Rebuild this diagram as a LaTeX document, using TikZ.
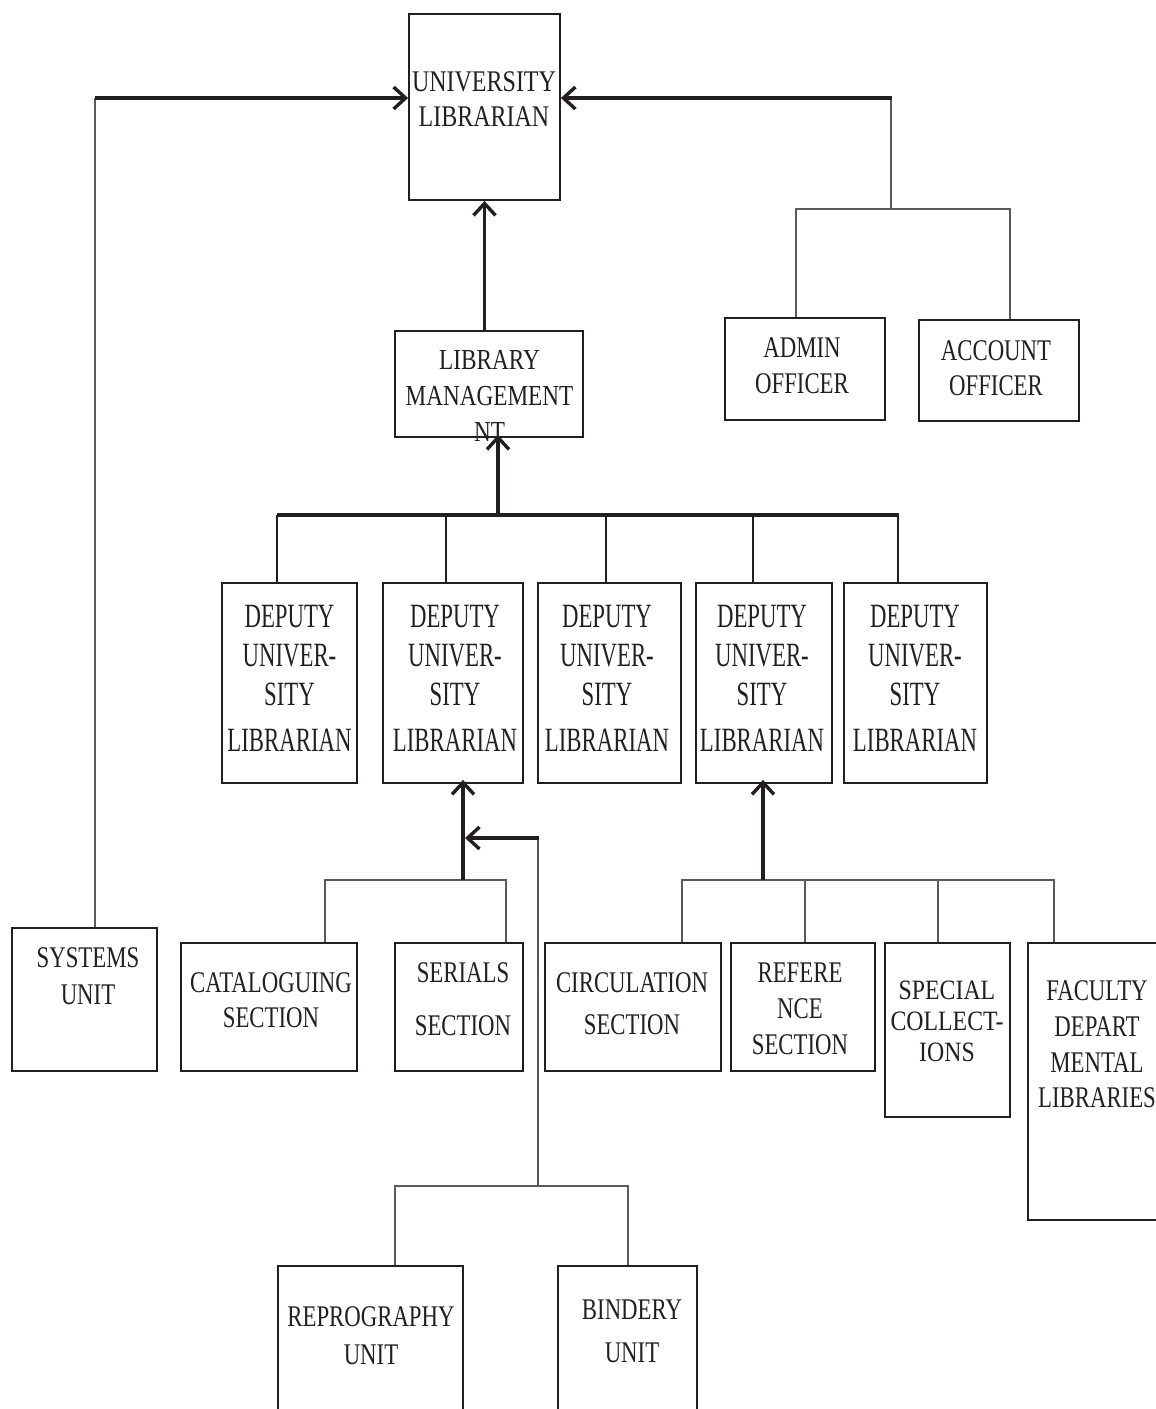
\documentclass[tikz,border=0pt]{standalone}
\usepackage{fontspec}
\setmainfont{Liberation Serif}
\newfontfamily\fA[FakeStretch=0.80]{Liberation Serif}
\newfontfamily\fB[FakeStretch=0.76]{Liberation Serif}
\newfontfamily\fC[FakeStretch=0.67]{Liberation Serif}
\newfontfamily\fD[FakeStretch=0.85]{Liberation Serif}
\usetikzlibrary{arrows.meta}
\definecolor{ink}{RGB}{35,31,32}
\definecolor{lgray}{RGB}{90,90,90}
\tikzset{
  box/.style={draw=ink, line width=1.8pt, inner sep=0pt},
  lbl/.style={align=center, text=ink, inner sep=0pt},
  heavy/.style={draw=ink, line width=3.6pt},
  heavyarrow/.style={heavy, -{Straight Barb[length=12pt,width=22pt,line width=3.4pt]}},
  link/.style={draw=ink, line width=1.8pt},
  thinlink/.style={draw=lgray, line width=1.5pt},
}
\begin{document}
\begin{tikzpicture}[x=1pt,y=-1pt]
\useasboundingbox (0,0) rectangle (1156,1409);
\fill[white] (0,0) rectangle (1156,1409);
\clip (0,0) rectangle (1156,1409);

% ---- boxes ----
\node[box, minimum width=151pt, minimum height=186pt] (ul) at (484.5,107) {};
\node[box, minimum width=188pt, minimum height=106pt] (lm) at (489,384) {};
\node[box, minimum width=160pt, minimum height=102pt] (admin) at (805,369) {};
\node[box, minimum width=160pt, minimum height=101pt] (acct) at (999,370.5) {};
\node[box, minimum width=135pt, minimum height=200pt] (d1) at (289.5,683) {};
\node[box, minimum width=140pt, minimum height=200pt] (d2) at (453,683) {};
\node[box, minimum width=143pt, minimum height=200pt] (d3) at (609.5,683) {};
\node[box, minimum width=136pt, minimum height=200pt] (d4) at (764,683) {};
\node[box, minimum width=143pt, minimum height=200pt] (d5) at (915.5,683) {};
\node[box, minimum width=145pt, minimum height=143pt] (sys) at (84.5,999.5) {};
\node[box, minimum width=176pt, minimum height=128pt] (cat) at (269,1007) {};
\node[box, minimum width=128pt, minimum height=128pt] (ser) at (459,1007) {};
\node[box, minimum width=176pt, minimum height=128pt] (circ) at (633,1007) {};
\node[box, minimum width=144pt, minimum height=128pt] (ref) at (803,1007) {};
\node[box, minimum width=125pt, minimum height=174pt] (spec) at (947.5,1030) {};
\node[box, minimum width=142pt, minimum height=277pt] (fac) at (1099,1081.5) {};
\node[box, minimum width=185pt, minimum height=174pt] (repro) at (370.5,1353) {};
\node[box, minimum width=139pt, minimum height=174pt] (bind) at (627.5,1353) {};

% ---- labels ----
\node[lbl, font=\fA\fontsize{30}{35}\selectfont] (ult) at (484,99.5) {UNIVERSITY\\LIBRARIAN};
\node[lbl, font=\fA\fontsize{29}{36}\selectfont] (lmt) at (489.5,396) {LIBRARY\\MANAGEMENT\\NT};
\node[lbl, font=\fB\fontsize{30}{36}\selectfont] (admint) at (802,366) {ADMIN\\OFFICER};
\node[lbl, font=\fB\fontsize{30}{35}\selectfont] (acctt) at (996,368.5) {ACCOUNT\\OFFICER};
\node[lbl, font=\fC\fontsize{34}{39}\selectfont] (d1t) at (289.5,678) {DEPUTY\\UNIVER-\\SITY\\[7pt]LIBRARIAN};
\node[lbl, font=\fC\fontsize{34}{39}\selectfont] (d2t) at (455,678) {DEPUTY\\UNIVER-\\SITY\\[7pt]LIBRARIAN};
\node[lbl, font=\fC\fontsize{34}{39}\selectfont] (d3t) at (607,678) {DEPUTY\\UNIVER-\\SITY\\[7pt]LIBRARIAN};
\node[lbl, font=\fC\fontsize{34}{39}\selectfont] (d4t) at (762,678) {DEPUTY\\UNIVER-\\SITY\\[7pt]LIBRARIAN};
\node[lbl, font=\fC\fontsize{34}{39}\selectfont] (d5t) at (915,678) {DEPUTY\\UNIVER-\\SITY\\[7pt]LIBRARIAN};
\node[lbl, font=\fB\fontsize{30}{37}\selectfont] (syst) at (88,976.5) {SYSTEMS\\UNIT};
\node[lbl, font=\fB\fontsize{30}{35}\selectfont] (catt) at (271,1000.5) {CATALOGUING\\SECTION};
\node[lbl, font=\fB\fontsize{30}{53}\selectfont] (sert) at (463,999.5) {SERIALS\\SECTION};
\node[lbl, font=\fB\fontsize{30}{42}\selectfont] (circt) at (632,1004) {CIRCULATION\\SECTION};
\node[lbl, font=\fB\fontsize{30}{36}\selectfont] (reft) at (800,1009) {REFERE\\NCE\\SECTION};
\node[lbl, font=\fD\fontsize{28}{31}\selectfont] (spect) at (947,1021) {SPECIAL\\COLLECT-\\IONS};
\node[lbl, font=\fB\fontsize{30}{35.7}\selectfont] (fact) at (1097,1044.5) {FACULTY\\DEPART\\MENTAL\\LIBRARIES};
\node[lbl, font=\fB\fontsize{30}{38}\selectfont] (reprot) at (371,1336) {REPROGRAPHY\\UNIT};
\node[lbl, font=\fB\fontsize{30}{43}\selectfont] (bindt) at (632,1331.5) {BINDERY\\UNIT};

% ---- junction coordinates ----
\coordinate (lc) at (95,98);
\coordinate (rc) at (891,98);
\coordinate (rb) at (891,209);
\coordinate (ab) at (796,209);
\coordinate (cd) at (1010,209);
\coordinate (hl) at (277,515);
\coordinate (hr) at (899,515);
\coordinate (hub) at (498,515);
\coordinate (h2) at (446,515);
\coordinate (h3) at (606,515);
\coordinate (h4) at (753,515);
\coordinate (h5) at (898,515);
\coordinate (s2) at (463,880);
\coordinate (c1) at (325,880);
\coordinate (c2) at (506,880);
\coordinate (rv) at (538,838);
\coordinate (rb2) at (538,1186);
\coordinate (r1) at (395,1186);
\coordinate (r2) at (628,1186);
\coordinate (s4) at (763,880);
\coordinate (e1) at (682,880);
\coordinate (e2) at (805,880);
\coordinate (e3) at (938,880);
\coordinate (e4) at (1054,880);

% ---- connectors ----
% systems unit -> university librarian
\draw[thinlink] (sys.north -| lc) -- (lc);
\draw[heavyarrow] (lc) -- (ul.west |- lc);
% admin / account -> university librarian
\draw[thinlink] (admin.north -| ab) -- (ab) -- (cd) -- (acct.north -| cd);
\draw[thinlink] (rb) -- (rc);
\draw[heavyarrow] ([xshift=1pt]rc) -- (ul.east |- rc);
% library management -> university librarian
\draw[heavyarrow] (ul.south |- lm.north) -- (ul.south);
% deputies -> library management
\draw[heavy] (hl) -- (hr);
\draw[heavyarrow] (hub) -- ([yshift=3pt]lm.south -| hub);
\draw[link] (hl) -- (d1.north -| hl);
\draw[link] (h2) -- (d2.north -| h2);
\draw[link] (h3) -- (d3.north -| h3);
\draw[link] (h4) -- (d4.north -| h4);
\draw[link] (h5) -- (d5.north -| h5);
% cataloguing / serials -> deputy 2
\draw[thinlink] (cat.north -| c1) -- (c1) -- (c2) -- (ser.north -| c2);
\draw[heavyarrow] (s2) -- ([yshift=4pt]d2.south -| s2);
% reprography / bindery -> deputy 2 line
\draw[thinlink] (repro.north -| r1) -- (r1) -- (r2) -- (bind.north -| r2);
\draw[thinlink] (rb2) -- (rv);
\draw[heavyarrow] ([xshift=1pt]rv) -- ([xshift=2pt]s2 |- rv);
% circulation etc -> deputy 4
\draw[thinlink] (circ.north -| e1) -- (e1) -- (e4) -- (fac.north -| e4);
\draw[thinlink] (e2) -- (ref.north -| e2);
\draw[thinlink] (e3) -- (spec.north -| e3);
\draw[heavyarrow] (s4) -- ([yshift=4pt]d4.south -| s4);
\end{tikzpicture}
\end{document}
